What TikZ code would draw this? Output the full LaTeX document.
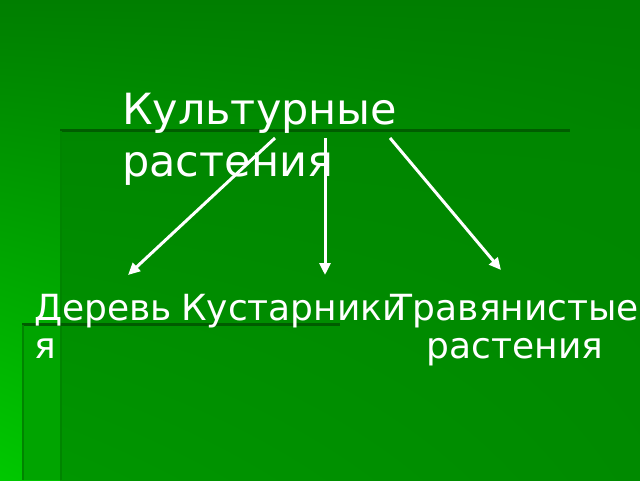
\documentclass[tikz,border=0pt]{standalone}
\usepackage{fontspec}
\setmainfont{DejaVu Sans}
\usetikzlibrary{arrows.meta,shadings}
\definecolor{bgtop}{RGB}{0,126,0}
\definecolor{bgbottom}{RGB}{0,200,0}
\definecolor{paneltop}{RGB}{0,134,0}
\definecolor{panelbottom}{RGB}{0,150,0}
\definecolor{panelright}{RGB}{0,138,0}
\definecolor{stripgreen}{RGB}{0,164,0}
\definecolor{edgegreen}{RGB}{0,92,0}
\tikzset{x=1pt, y=-1pt,
  title/.style={text=white, inner sep=0pt, align=left, font=\fontsize{43}{52}\selectfont},
  kind/.style={text=white, inner sep=0pt, font=\fontsize{36}{38}\selectfont},
  link/.style={draw=white, line width=3pt, -{Triangle[length=12pt,width=11pt]}},
  edge/.style={draw=edgegreen, line width=3pt},
  shadow/.style={draw=edgegreen!45!stripgreen, line width=1.5pt}}

\begin{document}
\begin{tikzpicture}
\useasboundingbox (0,0) rectangle (640,480);
% background
\shade[upper left=bgtop, upper right=bgtop, lower left=bgbottom, lower right=panelbottom] (0,0) rectangle (640,480);
\fill[stripgreen] (22,324) rectangle (60,480);
\shade[upper left=paneltop, upper right=paneltop, lower left=panelbottom, lower right=panelright] (60,129) rectangle (640,480);
\draw[edge] (60,130) -- (570,130);
\draw[shadow] (61,131) -- (61,480);
\draw[edge] (22,324) -- (340,324);
\draw[shadow] (23,325) -- (23,480);

\node[title, anchor=base west] (crops) at (122,176) {Культурные\\растения};
\node[kind, align=left, anchor=base west] (trees) at (34,358) {Деревь\\я};
\node[kind, anchor=base west] (shrubs) at (181,320) {Кустарники};
\node[kind, align=center, anchor=base] (herbs) at (515,358) {Травянистые\\растения};

\coordinate (a1) at (275,138);
\coordinate (a2) at (325,138);
\coordinate (a3) at (390,138);
\coordinate (b1) at (128,275);
\coordinate (b2) at (325,275);
\coordinate (b3) at (501,270);
\draw[link] (a1) -- (b1);
\draw[link] (a2) -- (b2);
\draw[link] (a3) -- (b3);
\end{tikzpicture}
\end{document}
